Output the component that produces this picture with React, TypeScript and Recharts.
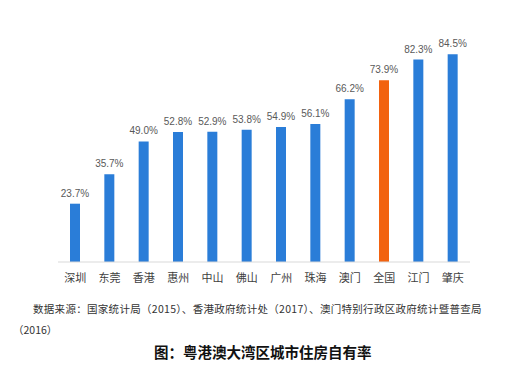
import React from "react";
import { BarChart, Bar, XAxis, YAxis, Cell, LabelList } from "recharts";

const cities = ["深圳", "东莞", "香港", "惠州", "中山", "佛山", "广州", "珠海", "澳门", "全国", "江门", "肇庆"];
const rates = [23.7, 35.7, 49.0, 52.8, 52.9, 53.8, 54.9, 56.1, 66.2, 73.9, 82.3, 84.5];
const highlight = "全国";
const sourceLine1 = "数据来源：国家统计局（2015）、香港政府统计处（2017）、澳门特别行政区政府统计暨普查局";
const sourceLine2 = "（2016）";
const title = "图：粤港澳大湾区城市住房自有率";

const data = cities.map((c, i) => ({ city: c, rate: rates[i] }));

const BLUE = "#2A7DD8";
const ORANGE = "#F2620F";

export default function App() {
  return (
    <div style={{ position: "absolute", left: 0, top: 0, width: 512, height: 379, background: "#fff", overflow: "hidden" }}>
      <BarChart width={512} height={379} data={data} margin={{ top: 16, right: 42, bottom: 87, left: 58 }} barCategoryGap={0}>
        <XAxis
          dataKey="city"
          tickLine={false}
          axisLine={{ stroke: "#d9d9d9" }}
          height={30}
          interval={0}
          tick={{ fontSize: 11, fill: "#404040", fontFamily: "Noto Sans CJK SC" }}
          tickMargin={6}
        />
        <YAxis hide domain={[0, 100]} />
        <Bar dataKey="rate" barSize={10} isAnimationActive={false}>
          {data.map((d) => (
            <Cell key={d.city} fill={d.city === highlight ? ORANGE : BLUE} />
          ))}
          <LabelList
            dataKey="rate"
            position="top"
            offset={7}
            formatter={(v: number) => v.toFixed(1) + "%"}
            style={{ fontSize: 10, fill: "#595959", fontFamily: "Liberation Sans" }}
          />
        </Bar>
      </BarChart>
      <div style={{ position: "absolute", left: 33, top: 302, fontSize: 10.5, letterSpacing: 0.3, whiteSpace: "nowrap", color: "#333", fontFamily: "Noto Sans CJK SC", lineHeight: "14px" }}>
        {sourceLine1}
      </div>
      <div style={{ position: "absolute", left: 13, top: 323, fontSize: 10.5, whiteSpace: "nowrap", color: "#333", fontFamily: "Noto Sans CJK SC", lineHeight: "14px" }}>
        {sourceLine2}
      </div>
      <div style={{ position: "absolute", left: 154, top: 343, fontSize: 14.5, fontWeight: "bold", whiteSpace: "nowrap", color: "#111", fontFamily: "Noto Sans CJK SC", lineHeight: "18px" }}>
        {title}
      </div>
    </div>
  );
}
